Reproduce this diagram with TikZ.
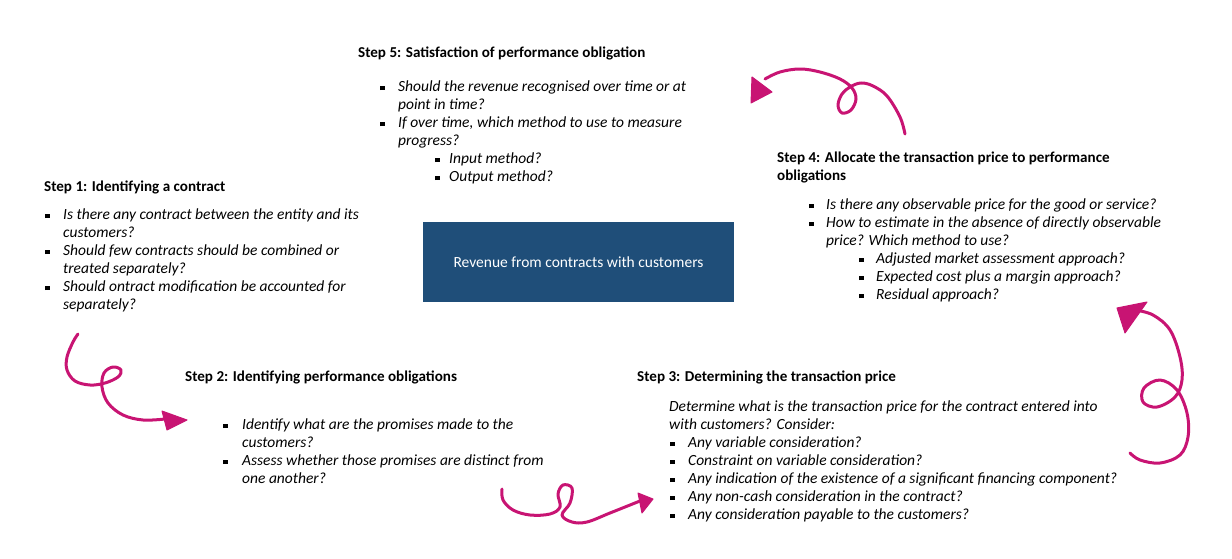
\documentclass[tikz,border=0pt]{standalone}
\usepackage{fontspec}
\setmainfont{Carlito}
\definecolor{boxblue}{RGB}{31,78,121}
\definecolor{mag}{RGB}{200,20,115}
\newcommand\bu[1]{\makebox[#1][l]{\raisebox{1.7pt}{\rule{4.4pt}{4.4pt}}}}
\newcommand\hs[1]{\hspace*{#1}}
\tikzset{
  txt/.style={anchor=north west, inner sep=0pt, align=left, font=\fontsize{15.5}{18}\selectfont\itshape},
  ttl/.style={anchor=base west, inner sep=0pt, font=\fontsize{15.1}{18}\selectfont\bfseries},
  curl/.style={draw=mag, line width=3pt, line cap=round, line join=round},
  head/.style={fill=mag, draw=mag, line width=1pt, line join=round},
}
\begin{document}
\begin{tikzpicture}[x=1pt,y=-1pt]
\useasboundingbox (0,0) rectangle (1232,559);

% centre box
\node[fill=boxblue, minimum width=311pt, minimum height=80pt, inner sep=0pt, text=white,
      font=\fontsize{15.5}{18}\selectfont] (rev) at (578.5,262) {Revenue from contracts with customers};

% Step 5
\node[ttl] (t5) at (358,58) {Step 5: Satisfaction of performance obligation};
\node[txt] (b5) at (380,78.5) {\rule{0pt}{13pt}\bu{18pt}Should the revenue recognised over time or at\\
\hs{18pt}point in time?\\
\bu{18pt}If over time, which method to use to measure\\
\hs{18pt}progress?\\
\hs{55pt}\bu{14pt}Input method?\\
\hs{55pt}\bu{14pt}Output method?};

% Step 1
\node[ttl] (t1) at (44,191) {Step 1: Identifying a contract};
\node[txt] (b1) at (45,206.5) {\rule{0pt}{13pt}\bu{18pt}Is there any contract between the entity and its\\
\hs{18pt}customers?\\
\bu{18pt}Should few contracts should be combined or\\
\hs{18pt}treated separately?\\
\bu{18pt}Should ontract modification be accounted for\\
\hs{18pt}separately?};

% Step 4
\node[ttl, align=left, anchor=north west] (t4) at (777,149) {\rule{0pt}{13pt}Step 4: Allocate the transaction price to performance\\obligations};
\node[txt] (b4) at (809,196.5) {\rule{0pt}{13pt}\bu{17pt}Is there any observable price for the good or service?\\
\bu{17pt}How to estimate in the absence of directly observable\\
\hs{17pt}price? Which method to use?\\
\hs{50pt}\bu{17pt}Adjusted market assessment approach?\\
\hs{50pt}\bu{17pt}Expected cost plus a margin approach?\\
\hs{50pt}\bu{17pt}Residual approach?};

% Step 2
\node[ttl] (t2) at (185,381.5) {Step 2: Identifying performance obligations};
\node[txt] (b2) at (223,416.5) {\rule{0pt}{13pt}\bu{19pt}Identify what are the promises made to the\\
\hs{19pt}customers?\\
\bu{19pt}Assess whether those promises are distinct from\\
\hs{19pt}one another?};

% Step 3
\node[ttl] (t3) at (637,381.5) {Step 3: Determining the transaction price};
\node[txt] (b3) at (669,398.5) {\rule{0pt}{13pt}Determine what is the transaction price for the contract entered into\\
with customers? Consider:\\
\hs{1pt}\bu{18pt}Any variable consideration?\\
\hs{1pt}\bu{18pt}Constraint on variable consideration?\\
\hs{1pt}\bu{18pt}Any indication of the existence of a significant financing component?\\
\hs{1pt}\bu{18pt}Any non-cash consideration in the contract?\\
\hs{1pt}\bu{18pt}Any consideration payable to the customers?};

% Curly arrows
% Step 4 -> Step 5
\draw[curl] plot[smooth, tension=0.6] coordinates {(905,134) (900,117) (887,96) (873,86) (861,83) (850,87) (842,94) (838,105) (842,113) (851,110) (856,99) (852,88) (840,79) (820,72) (800,69) (780,72) (765,79)};
\filldraw[head] (752,77) -- (772,92) -- (751,103) -- cycle;

% Step 1 -> Step 2
\draw[curl] plot[smooth, tension=0.6] coordinates {(78,334) (73,342) (67,357) (67,370) (75,381) (90,385) (105,383) (118,377) (121,370) (113,367) (104,373) (102,387) (108,403) (123,415) (143,420) (165,419)};
\filldraw[head] (162,411) -- (187,420) -- (167,430) -- cycle;

% Step 2 -> Step 3
\draw[curl] plot[smooth, tension=0.6] coordinates {(502,489) (503,500) (513,510) (530,515) (550,514) (560,507) (558,494) (563,485) (572,488) (570,503) (562,515) (572,522) (587,522) (610,513) (640,501)};
\filldraw[head] (638,493) -- (653,499) -- (642,513) -- cycle;

% Step 3 -> Step 4
\draw[curl] plot[smooth, tension=0.6] coordinates {(1130,453) (1140,460) (1160,463) (1180,455) (1188,437) (1187,413) (1177,390) (1160,380) (1144,388) (1143,402) (1157,407) (1175,397) (1182,380) (1180,357) (1170,330) (1153,315) (1135,310)};
\filldraw[head] (1117,308) -- (1147,302) -- (1125,333) -- cycle;
\end{tikzpicture}
\end{document}
